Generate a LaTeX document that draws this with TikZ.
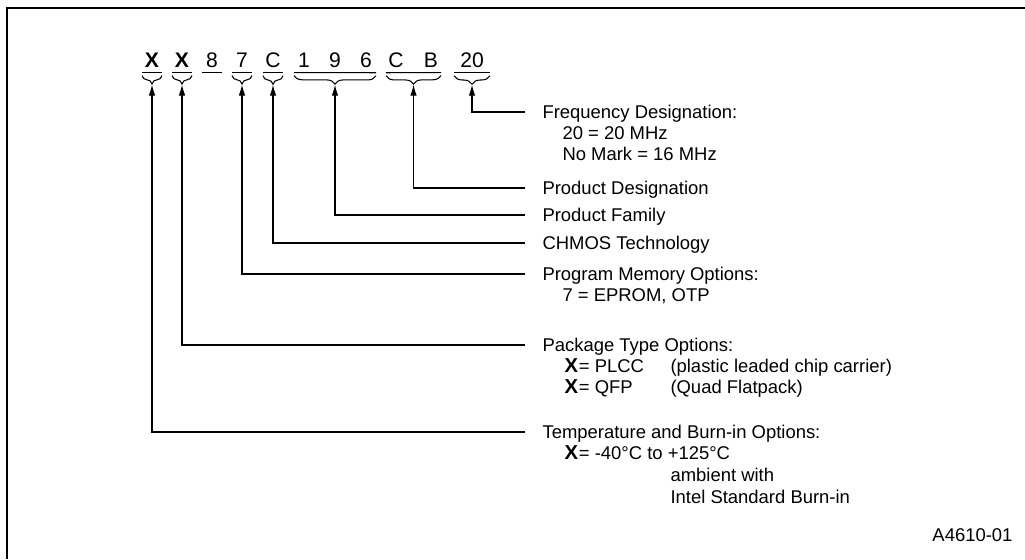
\documentclass[tikz,border=0pt]{standalone}
\usepackage{fontspec}
\setmainfont{Liberation Sans}
\usetikzlibrary{arrows.meta,decorations.pathreplacing,calc}

\tikzset{
  part/.style={anchor=base, inner sep=0pt, minimum width=0.38cm, font=\fontsize{12}{14}\selectfont},
  lbl/.style={anchor=west, inner sep=0pt, text height=7.5pt, text depth=0pt, align=left},
  brc/.style={decorate, decoration={brace, amplitude=0.17cm}},
  pointer/.style={-{Latex[length=0.22cm, width=0.13cm]}},
}
\newcommand{\bX}{{\fontsize{11.5}{13}\selectfont\textbf{X}}\kern0.5pt}

\begin{document}
\begin{tikzpicture}[x=0.02cm, y=-0.02cm, line width=0.6pt,
  every node/.style={font=\fontsize{10.5}{13}\selectfont}]
\useasboundingbox (0,0) rectangle (1025,559);
\draw[line width=1.2pt] (1025,8) -- (7,8) -- (7,559);

% part number
\node[part] (x1) at (152,67) {\textbf{X}};
\node[part] (x2) at (182,67) {\textbf{X}};
\node[part] (n8) at (212,67) {8};
\node[part] (n7) at (242,67) {7};
\node[part] (c1) at (273,67) {C};
\node[part] (n1) at (304,67) {1};
\node[part] (n9) at (335,67) {9};
\node[part] (n6) at (366,67) {6};
\node[part] (c2) at (396,67) {C};
\node[part] (b1) at (431,67) {B};
\node[part, minimum width=0.7cm] (f20) at (472,67) {20};
%
\foreach \a/\b in {x1/x1,x2/x2,n8/n8,n7/n7,c1/c1,n1/n6,c2/b1,f20/f20}
  \draw ([yshift=-0.1cm]\a.south west) -- ([yshift=-0.1cm]\b.south east);
\foreach \a/\b in {x1/x1,x2/x2,n7/n7,c1/c1,n1/n6,c2/b1,f20/f20}
  \draw[brc] ([yshift=-0.16cm]\b.south east) -- ([yshift=-0.16cm]\a.south west);
%
\coordinate (tx1) at ([yshift=-0.34cm]x1.south);
\coordinate (tx2) at ([yshift=-0.34cm]x2.south);
\coordinate (t7) at ([yshift=-0.34cm]n7.south);
\coordinate (tc) at ([yshift=-0.34cm]c1.south);
\coordinate (t196) at ([yshift=-0.34cm]n9.south);
\coordinate (tcb) at ($([yshift=-0.34cm]c2.south)!0.5!([yshift=-0.34cm]b1.south)$);
\coordinate (t20) at ([yshift=-0.34cm]f20.south);

% labels
\node[lbl] (lfreq) at (542,112) {Frequency Designation:};
\node[lbl] (lfreqa) at (562,133) {20 = 20 MHz};
\node[lbl] (lfreqb) at (562,154) {No Mark = 16 MHz};
\node[lbl] (lprod) at (542,188) {Product Designation};
\node[lbl] (lfam) at (542,215) {Product Family};
\node[lbl] (lchmos) at (542,243) {CHMOS Technology};
\node[lbl] (lmem) at (542,274) {Program Memory Options:};
\node[lbl] (lmema) at (562,295) {7 = EPROM, OTP};
\node[lbl] (lpkg) at (542,345) {Package Type Options:};
\node[lbl] (lpkga) at (564,366) {\makebox[2.12cm][l]{\bX= PLCC}(plastic leaded chip carrier)};
\node[lbl] (lpkgb) at (564,387) {\makebox[2.12cm][l]{\bX= QFP}(Quad Flatpack)};
\node[lbl] (ltemp) at (542,432) {Temperature and Burn-in Options:};
\node[lbl] (ltempa) at (564,453) {\bX= -40°C to +125°C};
\node[lbl] (ltempb) at (670,475) {ambient with};
\node[lbl] (ltempc) at (670,497) {Intel Standard Burn-in};
\node[lbl, anchor=east] (code) at (1013,535) {A4610-01};

% connectors
\draw[pointer] ([xshift=-0.34cm]lfreq.west) -| (t20);
\draw[pointer] ([xshift=-0.34cm]lprod.west) -| (tcb);
\draw[pointer] ([xshift=-0.34cm]lfam.west) -| (t196);
\draw[pointer] ([xshift=-0.34cm]lchmos.west) -| (tc);
\draw[pointer] ([xshift=-0.34cm]lmem.west) -| (t7);
\draw[pointer] ([xshift=-0.34cm]lpkg.west) -| (tx2);
\draw[pointer] ([xshift=-0.34cm]ltemp.west) -| (tx1);
\end{tikzpicture}
\end{document}
